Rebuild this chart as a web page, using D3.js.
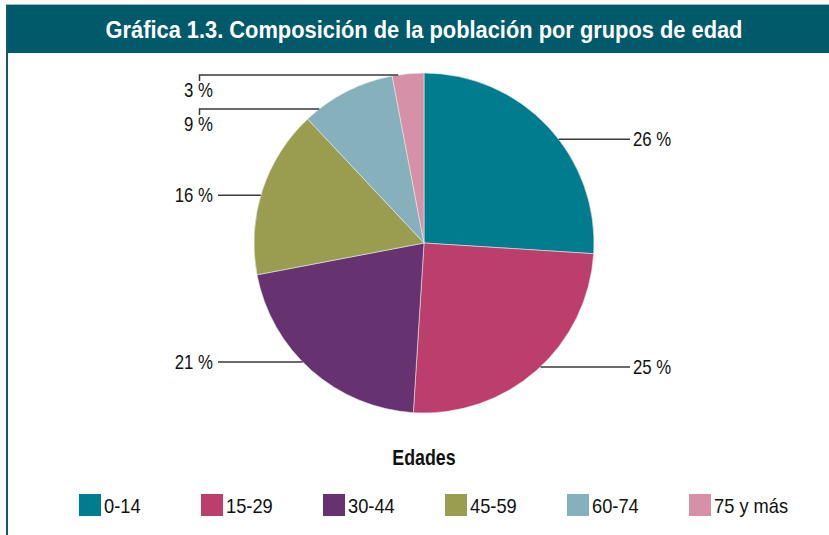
<!DOCTYPE html>
<html><head><meta charset="utf-8">
<script src="https://cdn.jsdelivr.net/npm/d3@7"></script>
<style>body{margin:0;background:#fff}svg{display:block}</style>
</head><body>
<svg id="c" width="829" height="535"></svg>
<script>
const title = "Gráfica 1.3. Composición de la población por grupos de edad";
const categories = ["0-14", "15-29", "30-44", "45-59", "60-74", "75 y más"];
const values = [26, 25, 21, 16, 9, 3];
const labels = ["26 %", "25 %", "21 %", "16 %", "9 %", "3 %"];
const colors = ["#007c8f", "#bc3e6c", "#663270", "#9a9c50", "#86b0bb", "#d690a8"];
const legendTitle = "Edades";
// where along each slice the leader line touches the rim (layout only)
const leaderFrac = [0.56, 0.48, 0.555, 0.47, 0.16, 0.19];

const W = 829, H = 535;
const svg = d3.select("#c");
const FONT = "'Liberation Sans Narrow','Arial Narrow','Liberation Sans',Arial,sans-serif";

// condensed text helper (horizontal squeeze to mimic a condensed face)
function txt(parent, x, y, str, o) {
  const gg = parent.append("g").attr("transform", `translate(${x},${y}) scale(${o.sx},1)`);
  return gg.append("text").attr("text-anchor", o.anchor || "start")
    .attr("font-family", FONT).attr("font-size", o.size)
    .attr("font-weight", o.weight || "normal").attr("fill", o.fill || "#111").text(str);
}

// frame and title bar
svg.append("line").attr("x1", 6).attr("x2", W).attr("y1", 4.5).attr("y2", 4.5)
  .attr("stroke", "#9dbcc3").attr("stroke-width", 1);
svg.append("rect").attr("x", 6).attr("y", 5).attr("width", W - 6).attr("height", 48).attr("fill", "#005a6a");
svg.append("line").attr("x1", 7).attr("x2", 7).attr("y1", 5).attr("y2", H)
  .attr("stroke", "#0e5c6b").attr("stroke-width", 2);
txt(svg, 424, 38, title, {sx: 0.91, size: 24, weight: "bold", anchor: "middle", fill: "#fff"});

// pie
const cx = 424, cy = 243, r = 170;
const pie = d3.pie().sort(null).value(d => d)(values);
const arc = d3.arc().innerRadius(0).outerRadius(r);
const g = svg.append("g").attr("transform", `translate(${cx},${cy})`);
g.selectAll("path").data(pie).join("path")
  .attr("d", arc).attr("fill", (d, i) => colors[i])
  .attr("stroke", "#e8e8e8").attr("stroke-width", 0.6);

// leader lines and labels
const lab = svg.append("g");
const LS = {sx: 0.84, size: 20};
pie.forEach((d, i) => {
  const a = d.startAngle + leaderFrac[i] * (d.endAngle - d.startAngle);
  const px = cx + r * Math.sin(a), py = cy - r * Math.cos(a);
  const right = a < Math.PI;
  const stroke = "#3a3a3a";
  if (right) {
    lab.append("line").attr("x1", px).attr("x2", 630).attr("y1", py).attr("y2", py)
      .attr("stroke", stroke).attr("stroke-width", 1.5);
    txt(lab, 633, py + 7, labels[i], LS);
  } else if (d.data >= 12) {
    lab.append("line").attr("x1", px).attr("x2", 218).attr("y1", py).attr("y2", py)
      .attr("stroke", stroke).attr("stroke-width", 1.5);
    txt(lab, 213, py + 7, labels[i], {...LS, anchor: "end"});
  } else {
    lab.append("path").attr("d", `M${px},${py}H199.5V${py + 6}`).attr("fill", "none")
      .attr("stroke", stroke).attr("stroke-width", 1.5);
    txt(lab, 213, py + 22, labels[i], {...LS, anchor: "end"});
  }
});

// legend
txt(svg, 424, 465, legendTitle, {sx: 0.81, size: 22, weight: "bold", anchor: "middle"});
const lx = d3.scalePoint().domain(categories).range([79, 689]);
const leg = svg.append("g").selectAll("g").data(categories).join("g")
  .attr("transform", d => `translate(${lx(d)},494)`);
leg.append("rect").attr("width", 22).attr("height", 22).attr("fill", (d, i) => colors[i]);
leg.each(function (d) { txt(d3.select(this), 25, 19, d, {sx: 0.87, size: 21}); });
</script>
</body></html>
